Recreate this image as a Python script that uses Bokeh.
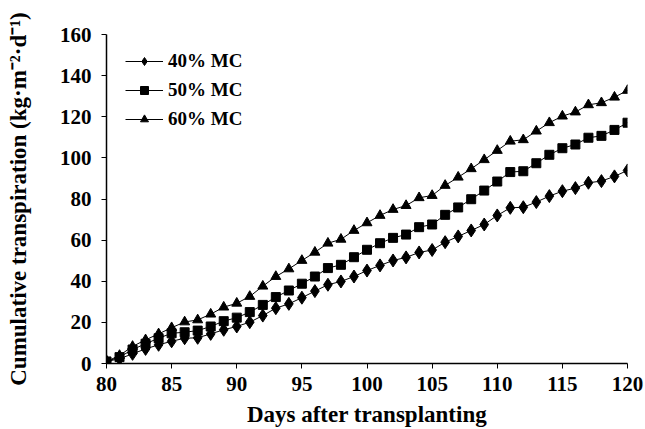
from bokeh.plotting import figure
from bokeh.models import Range1d, Legend, LegendItem, FixedTicker
from bokeh.embed import file_html
from bokeh.resources import INLINE

days = list(range(80, 121))
mc40 = [1.0, 2.3, 4.7, 7.1, 9.1, 10.8, 12.3, 12.5, 14.4, 16.4, 18.0,
        20.1, 23.3, 26.9, 29.0, 32.0, 35.2, 38.3, 39.9, 42.3, 45.2,
        47.7, 50.1, 51.6, 54.0, 55.2, 59.0, 61.8, 64.7, 67.6, 72.0,
        75.7, 76.0, 78.5, 81.4, 83.8, 85.3, 87.9, 88.7, 91.0, 93.9]
mc50 = [1.0, 3.1, 6.8, 9.6, 12.3, 14.7, 15.2, 16.0, 18.0, 20.6, 22.3,
        25.0, 28.5, 32.3, 35.5, 38.8, 42.3, 46.4, 48.0, 51.7, 55.3,
        58.5, 61.1, 62.7, 66.3, 67.6, 72.3, 75.9, 79.9, 84.1, 88.5,
        93.1, 93.5, 97.4, 101.5, 104.7, 106.5, 109.8, 110.7, 113.6, 117.1]
mc60 = [1.0, 3.9, 8.3, 11.5, 14.4, 17.4, 20.2, 21.2, 24.0, 27.4, 29.3,
        32.6, 37.6, 42.3, 46.0, 50.1, 54.1, 58.5, 60.4, 64.7, 68.4,
        72.0, 74.9, 76.8, 80.6, 81.7, 86.6, 90.6, 94.7, 99.1, 103.6,
        108.1, 108.8, 113.0, 117.1, 120.3, 122.3, 125.8, 126.8, 129.5, 132.8]
labels = ["40% MC", "50% MC", "60% MC"]
x_ticks = [80, 85, 90, 95, 100, 105, 110, 115, 120]
y_ticks = [0, 20, 40, 60, 80, 100, 120, 140, 160]

FONT = "Liberation Serif"

p = figure(frame_width=521, frame_height=329, output_backend="svg", toolbar_location=None,
           x_range=Range1d(80, 120), y_range=Range1d(0, 160),
           min_border_left=106, min_border_top=34, min_border_right=18,
           min_border_bottom=64)
p.outline_line_color = None
p.grid.visible = False

items = []
l1 = p.line(days, mc40, line_color="black", line_width=1)
m1 = p.scatter(days, mc40, marker="diamond", size=13, color="black")
items.append(LegendItem(label=labels[0], renderers=[l1, m1]))
l2 = p.line(days, mc50, line_color="black", line_width=1)
m2 = p.scatter(days, mc50, marker="square", size=9, color="black")
items.append(LegendItem(label=labels[1], renderers=[l2, m2]))
l3 = p.line(days, mc60, line_color="black", line_width=1)
m3 = p.scatter(days, mc60, marker="triangle", size=10, color="black")
items.append(LegendItem(label=labels[2], renderers=[l3, m3]))

legend = Legend(items=items, location=(19, 233), glyph_width=38, glyph_height=20,
                spacing=7, padding=0, margin=0, label_standoff=5,
                label_text_font=FONT, label_text_font_style="bold",
                label_text_font_size="19px", label_text_color="black",
                border_line_color=None, background_fill_alpha=0)
p.add_layout(legend, "center")

for ax in (p.xaxis[0], p.yaxis[0]):
    ax.axis_line_color = "black"
    ax.axis_line_width = 1.5
    ax.major_tick_line_color = "black"
    ax.major_tick_in = 0
    ax.major_tick_out = 5
    ax.minor_tick_line_color = None
    ax.major_label_text_font = FONT
    ax.major_label_text_font_style = "bold"
    ax.major_label_text_font_size = "21px"
    ax.major_label_text_color = "black"
    ax.axis_label_text_font = FONT
    ax.axis_label_text_font_style = "bold"
    ax.axis_label_text_font_size = "23px"
    ax.axis_label_text_color = "black"

p.xaxis.ticker = FixedTicker(ticks=x_ticks)
p.yaxis.ticker = FixedTicker(ticks=y_ticks)
p.xaxis.major_label_standoff = 8
p.yaxis.major_label_standoff = 10
p.xaxis.axis_label = "Days after transplanting"
p.yaxis.axis_label = "Cumulative transpiration (kg·m⁻²·d⁻¹)"
p.xaxis.axis_label_standoff = 8
p.yaxis.axis_label_standoff = 26

open("out.html", "w").write(file_html(p, INLINE))
